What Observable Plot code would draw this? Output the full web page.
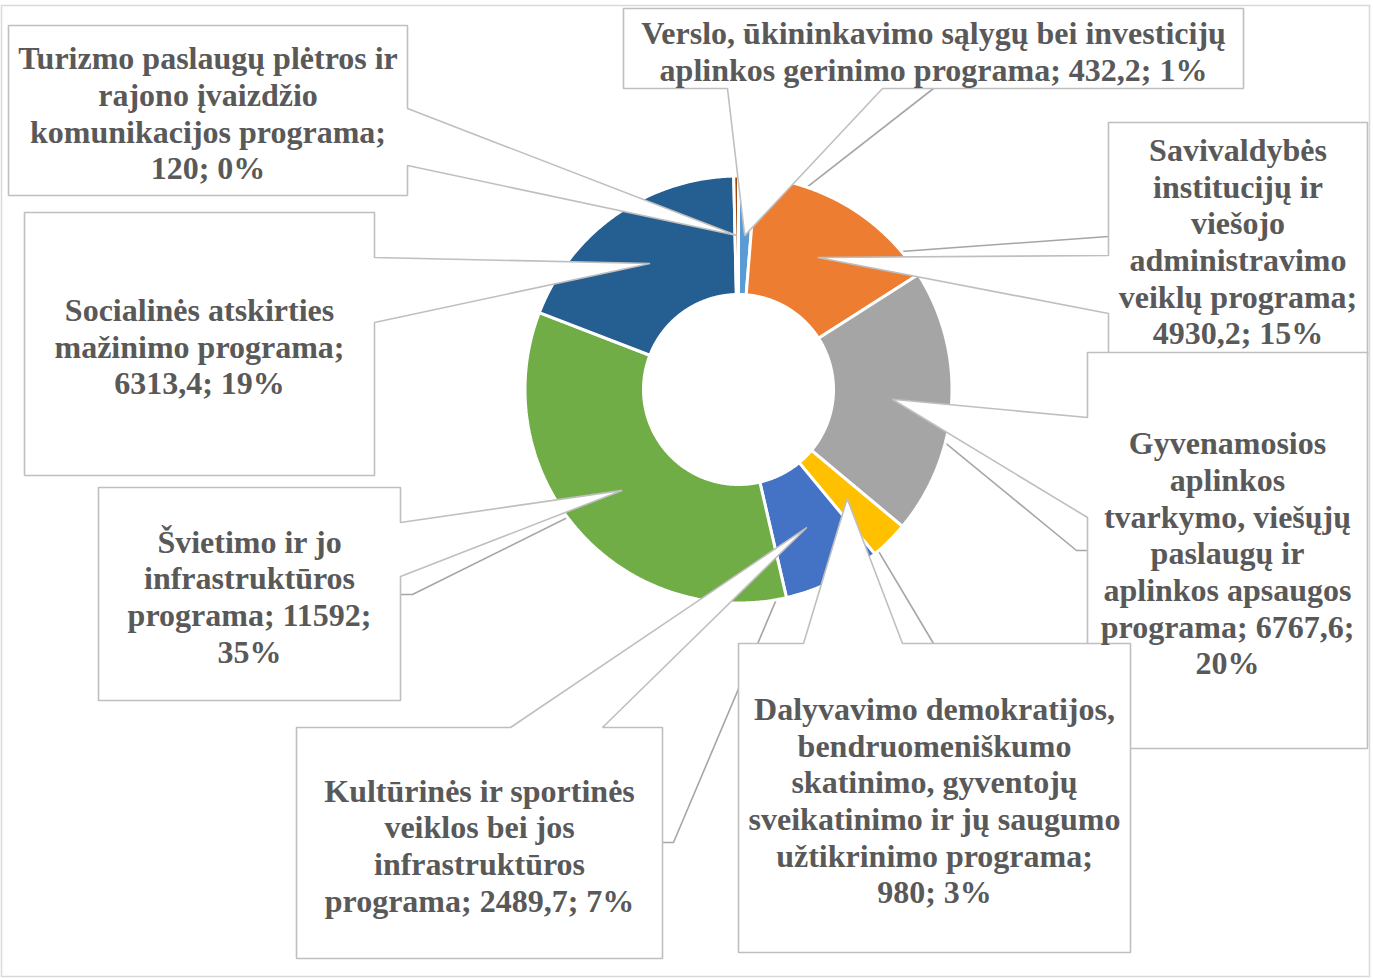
<!DOCTYPE html>
<html>
<head>
<meta charset="utf-8">
<script src="https://cdn.jsdelivr.net/npm/d3@7"></script>
<script src="https://cdn.jsdelivr.net/npm/@observablehq/plot@0.6"></script>
<style>
  html, body { margin: 0; padding: 0; background: #ffffff; }
  #chart svg { display: block; }
</style>
</head>
<body>
<div id="chart"></div>
<script>
// ---------- DATA ----------
const categories = [
  "Verslo, ūkininkavimo sąlygų bei investicijų aplinkos gerinimo programa",
  "Savivaldybės institucijų ir viešojo administravimo veiklų programa",
  "Gyvenamosios aplinkos tvarkymo, viešųjų paslaugų ir aplinkos apsaugos programa",
  "Dalyvavimo demokratijos, bendruomeniškumo skatinimo, gyventojų sveikatinimo ir jų saugumo užtikrinimo programa",
  "Kultūrinės ir sportinės veiklos bei jos infrastruktūros programa",
  "Švietimo ir jo infrastruktūros programa",
  "Socialinės atskirties mažinimo programa",
  "Turizmo paslaugų plėtros ir rajono įvaizdžio komunikacijos programa"
];
const values = [432.2, 4930.2, 6767.6, 980, 2489.7, 11592, 6313.4, 120];
const valueLabels = ["432,2", "4930,2", "6767,6", "980", "2489,7", "11592", "6313,4", "120"];
const percentLabels = ["1%", "15%", "20%", "3%", "7%", "35%", "19%", "0%"];
const colors = ["#5B9BD5", "#ED7D31", "#A5A5A5", "#FFC000", "#4472C4", "#70AD47", "#255E91", "#9E480E"];

// ---------- LAYOUT (positions / styles, not data) ----------
const geom = {cx: 738, cy: 389, r0: 95, r1: 213.5, rTip: 154};
// words per line for each label
const lineBreaks = [[5, 5], [1, 2, 1, 1, 2, 2], [1, 1, 2, 2, 2, 2, 1], [2, 1, 2, 4, 2, 2], [3, 3, 1, 3], [3, 1, 2, 1], [2, 2, 2], [4, 2, 2, 2]];
const labelLayout = [
  {box: [623, 8, 1243, 88], side: "bottom", a: 727, b: 882, leader: [[933, 88]]},
  {box: [1108, 122, 1367, 355], side: "left", a: 255, b: 313, leader: [[1108, 236]]},
  {box: [1087, 352, 1367, 748], side: "left", a: 417, b: 517, leader: [[1088, 550], [1076, 550]]},
  {box: [738, 643, 1130, 952], side: "top", a: 803, b: 902, leader: [[933, 643]]},
  {box: [296, 727, 662, 958], side: "top", a: 510, b: 602, leader: [[662, 842], [673, 842]]},
  {box: [98, 487, 400, 700], side: "right", a: 522, b: 576, leader: [[400, 594], [412, 594]]},
  {box: [24, 212, 374, 475], side: "right", a: 257, b: 322, leader: null},
  {box: [8, 25, 407, 195], side: "right", a: 108, b: 165, leader: null}
];

// ---------- BUILD ----------
const pie = d3.pie().sort(null).value(d => d).startAngle(0).endAngle(2 * Math.PI)(values);
const pt = (r, a) => [geom.cx + r * Math.sin(a), geom.cy - r * Math.cos(a)];

const slicePts = [];
pie.forEach((s, i) => {
  const n = Math.max(2, Math.ceil((s.endAngle - s.startAngle) / (Math.PI / 360)));
  const poly = [];
  for (let k = 0; k <= n; k++) poly.push(pt(geom.r1, s.startAngle + (s.endAngle - s.startAngle) * k / n));
  for (let k = n; k >= 0; k--) poly.push(pt(geom.r0, s.startAngle + (s.endAngle - s.startAngle) * k / n));
  poly.push(poly[0]);
  poly.forEach(([x, y]) => slicePts.push({key: "s" + i, x, y, color: colors[i]}));
});

const tips = pie.map(s => pt(geom.rTip, (s.startAngle + s.endAngle) / 2));

const calloutPts = [];
const leaderPts = [];
const labels = [];
labelLayout.forEach((L, i) => {
  const [x0, y0, x1, y1] = L.box;
  const tip = tips[i];
  const p = [[x0, y0]];
  if (L.side === "top") p.push([L.a, y0], tip, [L.b, y0]);
  p.push([x1, y0]);
  if (L.side === "right") p.push([x1, L.a], tip, [x1, L.b]);
  p.push([x1, y1]);
  if (L.side === "bottom") p.push([L.b, y1], tip, [L.a, y1]);
  p.push([x0, y1]);
  if (L.side === "left") p.push([x0, L.b], tip, [x0, L.a]);
  p.push([x0, y0]);
  p.forEach(([x, y]) => calloutPts.push({key: "c" + i, x, y}));
  if (L.leader) {
    [...L.leader, tip].forEach(([x, y]) => leaderPts.push({key: "l" + i, x, y}));
  }
  const words = `${categories[i]}; ${valueLabels[i]}; ${percentLabels[i]}`.split(" ");
  const lines = [];
  let w = 0;
  lineBreaks[i].forEach(c => { lines.push(words.slice(w, w + c).join(" ")); w += c; });
  labels.push({x: (x0 + x1) / 2, y: (y0 + y1) / 2 + 2, text: lines.join("\n")});
});

const chart = Plot.plot({
  width: 1373,
  height: 978,
  margin: 0,
  x: {domain: [0, 1373], range: [0, 1373], axis: null},
  y: {domain: [0, 978], range: [0, 978], axis: null},
  color: {type: "identity"},
  marks: [
    Plot.frame({stroke: "#D9D9D9", strokeWidth: 1.5, insetTop: 5, insetLeft: 1, insetRight: 4, insetBottom: 2}),
    Plot.line(leaderPts, {x: "x", y: "y", z: "key", stroke: "#A6A6A6", strokeWidth: 1.6, curve: "linear"}),
    Plot.line(slicePts, {x: "x", y: "y", z: "key", fill: "color", stroke: "white", strokeWidth: 3, strokeLinejoin: "miter", curve: "linear"}),
    Plot.line(calloutPts, {x: "x", y: "y", z: "key", fill: "white", stroke: "#BFBFBF", strokeWidth: 1.6, strokeLinejoin: "miter", curve: "linear"}),
    Plot.text(labels, {
      x: "x", y: "y", text: "text",
      fontSize: 32, fontWeight: "bold", fontFamily: "Liberation Serif",
      fill: "#595959", lineHeight: 1.145, textAnchor: "middle", lineAnchor: "middle"
    })
  ]
});
document.getElementById("chart").appendChild(chart);
</script>
</body>
</html>
